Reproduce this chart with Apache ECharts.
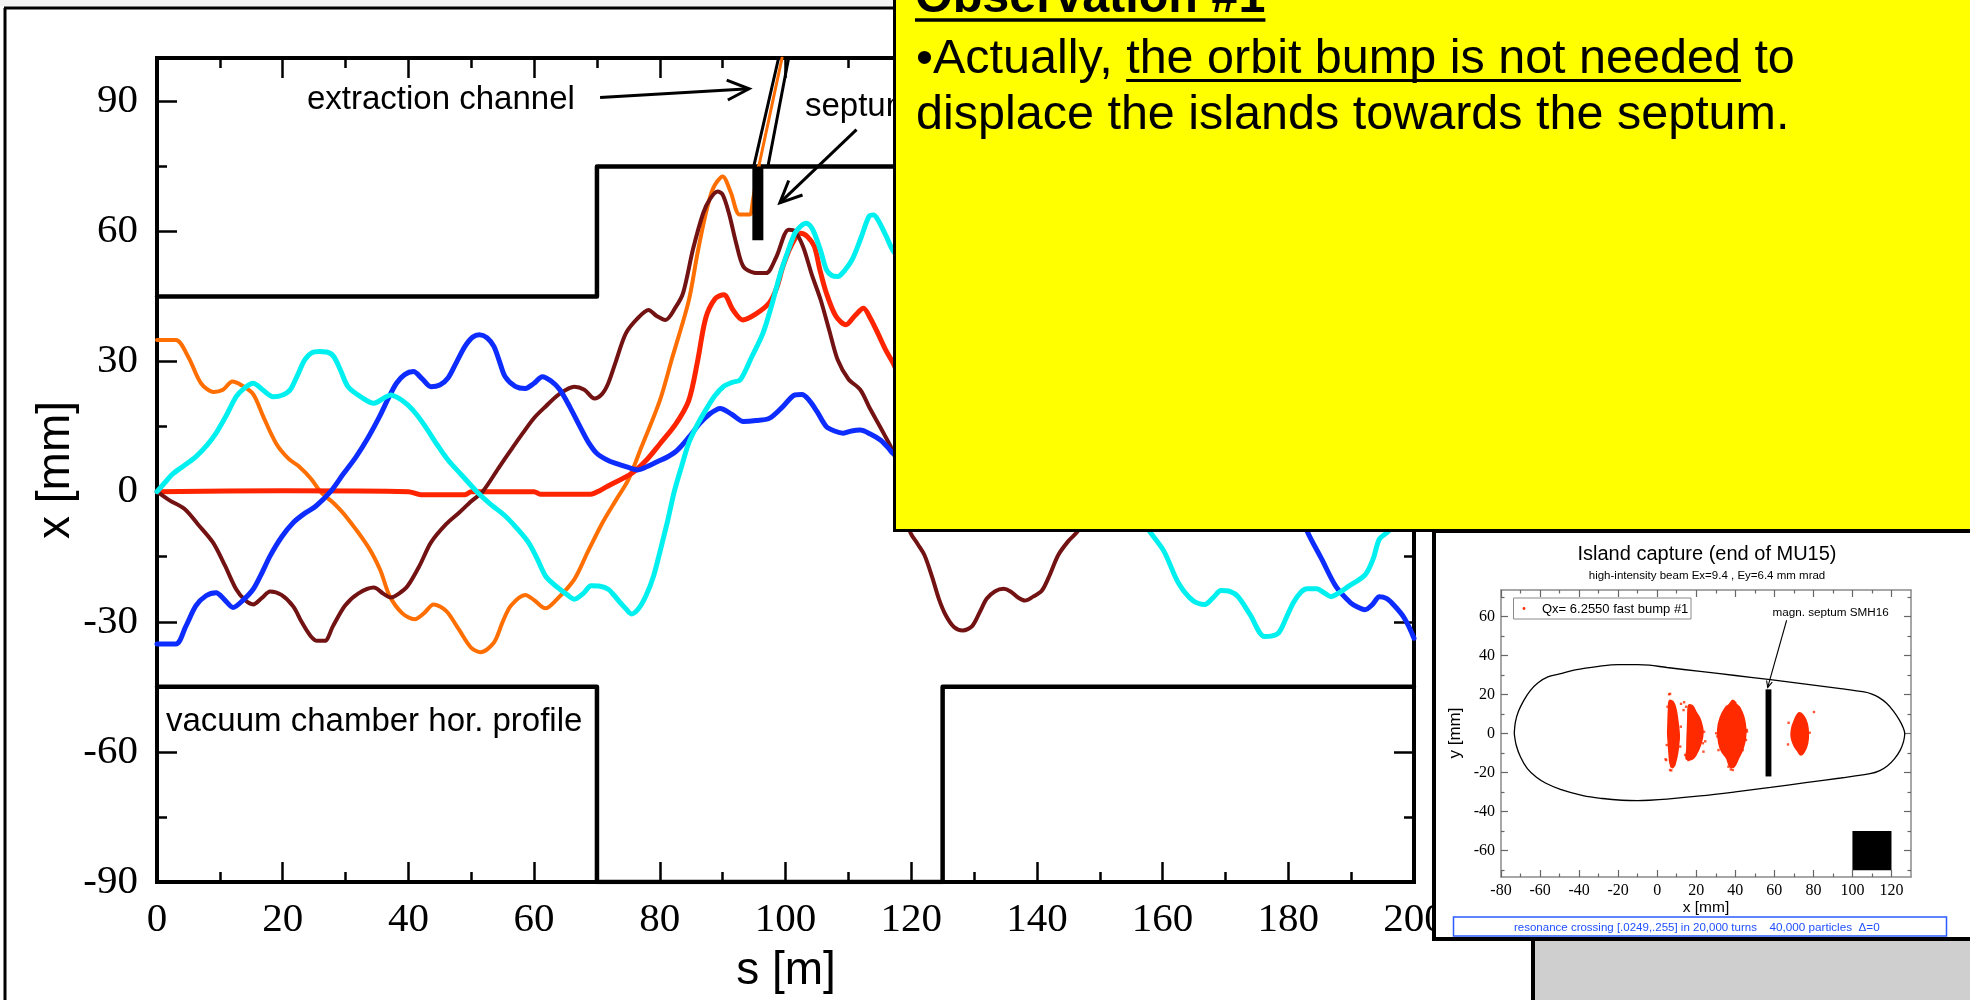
<!DOCTYPE html>
<html><head><meta charset="utf-8">
<script src="https://cdn.jsdelivr.net/npm/echarts@6/dist/echarts.min.js"></script>
<style>html,body{margin:0;padding:0;background:#fff}#c{width:1970px;height:1000px}</style>
</head><body><div id="c"></div>
<script>
// ---------------- main plot data: s [m] , x [mm] ----------------
const orangeOrbit = [[0,35],[3,35],[5,31],[7,25],[9,23],[10.5,23.5],[12,25.4],[13.5,24.5],[15.3,22.5],[17,17],[19,11],[21,7.5],[22.6,5.8],[24.5,3],[26,0],[28,-2.5],[30,-5.6],[33.5,-12.5],[35.5,-18],[37,-24],[39,-28],[41,-29.4],[42.5,-28],[44,-26],[46,-27.5],[48,-31.7],[50,-36],[51.5,-37],[53.6,-34.8],[55,-30],[56.3,-26.3],[58.6,-23.8],[60,-25],[61.8,-26.9],[63.5,-25],[66.4,-20.2],[68.5,-14],[70.9,-7.1],[73,-2],[75,2.8],[77,10],[80,21],[82,31],[84.6,44],[86,55],[87.3,64],[88.5,70],[90,72.7],[91.3,69],[92.7,63.9],[94.3,63.9],[94.8,67],[95.75,75]];
const orangeChannel = [[95.75,75],[99.45,100]];
const redOrbit = [[0,0],[20,0.2],[40,0],[42,-0.7],[49,-0.7],[50,0],[60,0],[61,-0.6],[69,-0.6],[70.5,0.3],[72,1.5],[75.5,4.2],[78,7.5],[80,11],[82.5,15.5],[84.6,21],[86,30],[87.3,40],[88.8,44.5],[90.2,45.4],[91.6,42],[93.2,39.6],[95.3,41],[97.4,43.5],[98.6,47],[99.6,52],[101,57],[102.4,59.6],[103.5,58.8],[104.6,56.5],[105.5,51],[106.5,45.8],[108,40.5],[109.6,38.5],[111,40.5],[112.4,42.3],[113.5,40],[114.7,36.5],[116,32.5],[117.4,28.8],[119,22]];
const brownOrbit = [[0,0],[2,-2],[4.4,-4],[6.5,-7.5],[8.9,-11.7],[10.8,-17],[12.6,-22.5],[14,-25],[15.3,-26],[16.7,-24.5],[18,-23],[19.8,-23.8],[21.7,-26.5],[23,-30],[24.4,-33.2],[25.5,-34.4],[26.7,-34.4],[28,-31],[29.9,-26.3],[32,-23.5],[34.5,-22.1],[36,-23.5],[37.2,-24.4],[38.5,-23.5],[39.9,-21.7],[41.8,-17],[43.6,-11.7],[46,-7.5],[48.1,-4.8],[50,-2.2],[51.8,0],[54.5,5.8],[56.5,10],[58.2,13.5],[60,17],[61.8,19.6],[64,22.5],[66.4,24.2],[68,23.5],[69.6,21.5],[70.8,22.5],[71.8,25],[73,30],[74.6,36.5],[76.5,40],[78.2,41.9],[79.5,40.5],[80.9,39.6],[82.5,42.5],[83.7,45.8],[85.3,56],[86.9,64.2],[88,67.5],[89.2,69.2],[90,68.5],[91,64.2],[92.2,57],[93.3,51.9],[95,50.5],[96.9,50.4],[98.5,54],[100.5,60.4],[101.5,60],[102.8,56.5],[104.2,50],[105.6,44.2],[107,37],[108.3,30.4],[110,26],[111.9,23.5],[113.5,19],[115.6,13.5],[117.4,8.1],[119.8,-9.1],[121,-12],[122.1,-14.6],[123.3,-19.5],[124.4,-24.7],[125.5,-28.5],[126.8,-31.2],[128.2,-32],[129.7,-31],[131,-27.5],[132,-24.7],[133.3,-23],[134.7,-22.4],[135.8,-23],[137,-24.4],[138.1,-25.1],[139.4,-24.2],[140.8,-22.8],[142.1,-19],[143.4,-14.6],[145,-11.4],[146.5,-9.1],[148,-5]];
const blueOrbit = [[0,-35.1],[3,-35.1],[4.6,-31],[6.2,-26.3],[7.8,-24],[9.4,-23.3],[10.8,-25],[12.1,-26.7],[13.7,-25],[15.3,-22.5],[16.6,-19],[18,-14.8],[19.8,-10.5],[21.7,-7.1],[23.5,-5],[25.3,-3.3],[27.6,0],[29.6,4],[31.7,8.1],[33.6,12.5],[35.4,17.3],[36.8,21.5],[38.1,25],[39.4,27],[40.8,27.7],[42.2,26],[43.6,24.2],[45,24.6],[46.3,26.2],[47.7,30],[49,33.5],[50.2,35.6],[51.3,36.2],[52.5,35.5],[53.6,33.5],[54.5,30],[55.4,26.5],[57,24.3],[58.6,23.8],[60,25],[61.3,26.5],[62.7,25.5],[64.1,23.5],[65.7,19.5],[67.3,15],[68.6,11.5],[70,8.8],[71.8,7.2],[73.7,6.2],[75,5.6],[76.4,5],[78,5.8],[79.6,6.9],[81.2,8],[82.8,9.6],[84.6,12.5],[86.4,15.8],[88,18],[89.6,19.2],[91.5,17.8],[93.3,16.2],[95.3,16.4],[97.4,16.9],[99.5,19.5],[101.5,22.3],[102.6,22.4],[103.7,21.2],[105,18.5],[106.5,15],[107.8,14],[109.2,13.5],[110.5,14],[111.9,14.2],[113.5,13.3],[115.1,11.9],[116.3,10.2],[117.4,8.6],[181.5,-3],[183,-9.1],[185.3,-15.5],[187.6,-21.9],[189.9,-25.6],[191,-26.6],[192.2,-27.2],[193.4,-26],[194.5,-24.2],[195.6,-24.6],[196.7,-26],[198.4,-29],[200,-33.8]];
const cyanOrbit = [[0,0],[1.2,2],[2.6,4.2],[4.5,6.2],[6.2,8.1],[8,10.8],[9.4,13.5],[11,17.5],[12.6,21.9],[14,24],[15.3,25],[16.8,23.5],[18.5,21.9],[20,22.3],[21.2,23.5],[22.4,27],[23.5,30.4],[24.6,32],[25.8,32.3],[27,32.2],[28.1,31.2],[29.2,28],[30.4,24.2],[32.5,21.8],[34.5,20.4],[36,21.5],[37.2,22.3],[38.5,21.5],[39.9,20],[41.3,17.8],[42.7,15],[44.5,11],[46.3,7.3],[48.5,3.8],[50.9,0],[53,-2.8],[55.4,-5.6],[57.3,-8.5],[59.1,-11.7],[60.5,-15.5],[61.8,-19.4],[63,-21.2],[64.1,-22.5],[65.3,-23.8],[66.4,-24.8],[67.8,-23.5],[69.1,-21.7],[70.5,-21.8],[71.8,-22.5],[72.8,-24],[73.7,-25.6],[74.6,-27],[75.5,-28.2],[76.6,-27],[77.8,-24],[79,-19.5],[80,-14],[81.2,-7],[82.3,0],[83.5,6],[84.6,11.2],[86,15.5],[87.3,18.8],[88.7,22],[90.1,24.2],[91.5,25.2],[92.8,25.8],[94.6,31],[96.4,36.5],[97.8,43],[99.2,50.4],[100.4,55.5],[101.5,59.6],[102.4,61.2],[103.3,61.9],[104,61.2],[104.6,59.6],[105.6,55.5],[106.5,51.2],[107.4,49.8],[108.3,49.6],[109.4,51],[110.6,53.5],[112,58.5],[113.3,63.5],[114,63.8],[114.7,62.7],[116,59],[117.4,55],[156,-5],[157.9,-9.1],[160.2,-13.7],[162.5,-21],[164.8,-25.1],[166.7,-26],[168,-24.5],[169.3,-22.8],[170.7,-23],[172,-24.2],[173.9,-28.3],[176.2,-33.4],[177.3,-33.3],[178.5,-32.5],[179.7,-29],[180.8,-25.6],[182,-23.2],[183,-22.4],[184.5,-22.4],[185.7,-23.3],[186.8,-24.2],[188.2,-23.2],[189.5,-21.9],[192.2,-19.2],[193.5,-15.5],[194.5,-10.9],[196,-9],[197.5,-4]];
const chamberUpper = [[0,45],[70,45],[70,75],[200,75]];
const chamberLower = [[0,-45],[70,-45],[70,-90],[125,-90],[125,-45],[200,-45]];
const channelLeft = [[94.95,75],[98.9,100]];
const channelRight = [[97.2,75],[100.5,100]];
const septumBar = [[95.6,58],[95.6,75]];
// arrows: [fromS, fromX, toS, toX]
const mainArrows = [[70.5,90.9,94.2,92.9],[111.3,83.5,99.1,66.6]];
const mainYMajor = [-90,-60,-30,0,30,60,90];
const mainYMinor = [-75,-45,-15,15,45,75];

// ---------------- inset data: x [mm], y [mm] ----------------
const separatrix = [[-73.2,0],[-72.6,6],[-71,11.5],[-68.3,17],[-65,22],[-61,26],[-56,29],[-50,30.5],[-42,32.6],[-30,34.4],[-20,35.3],[-10,35.3],[-4,35],[5,33.8],[22,31.8],[40,29.7],[58,27.6],[76,25.3],[94,23],[106,21.3],[110,20.2],[113.5,18.5],[117.5,15.5],[121,11.5],[124,7],[126,3],[126.8,0],[126.2,-4],[124.5,-8.5],[121.5,-13],[118,-16.5],[114,-19],[109,-20.6],[94,-22.8],[76,-25.2],[58,-27.6],[40,-29.9],[22,-32],[5,-33.6],[-4,-34.2],[-10,-34.4],[-18,-34.2],[-28,-33.3],[-38,-31.8],[-49.6,-28.6],[-57,-25.5],[-62,-22.3],[-66.5,-18],[-70,-12],[-72.2,-6],[-73.2,0]];
const islandA = [[6.3,16.8],[8.3,16],[9.7,12],[10.9,3.5],[11.3,-1],[11.2,-3.3],[10.4,-10.2],[9.2,-15.3],[7.8,-17.5],[6.6,-15.3],[6.1,-10.2],[5.6,-3.3],[5.4,0],[5.5,3.5],[5.8,12]];
const islandB = [[16.2,14.6],[18.2,14],[19.8,11],[21.8,7.8],[23.2,3],[23.4,0],[22.9,-3.3],[21.1,-8.5],[18.6,-12.7],[16.5,-13.5],[14.8,-12.7],[15.2,-8.5],[15.3,-3.3],[15.5,1.8],[15.7,7.8],[15.8,12]];
const islandC = [[38.8,17],[40.5,15],[42.5,12.9],[44.5,7.8],[45.4,1.8],[45.2,-2],[44.7,-5],[43.3,-9.3],[41.6,-12.7],[39.4,-17],[37.3,-17],[35.6,-12.7],[33.1,-9.3],[31.6,-5],[31,1.8],[32.2,7.8],[34.8,12.9],[37,15]];
const islandD = [[72.5,10.5],[75,9],[76.8,5],[77.4,0],[77,-5],[75.5,-9],[73.5,-11],[72,-9],[70,-6],[68.7,-2],[68.8,2],[70,6]];
const strayParticles = [[6.1,20.1],[6.6,20.3],[4.6,-13.6],[6.6,-18.7],[8.7,-16.1],[5.3,13.7],[13.8,16],[14.8,13.7],[23.7,-9.3],[17.2,-11.9],[14.3,-11],[36.5,-17],[37.7,-18.4],[45.5,-3.3],[31.4,-8.5],[39.1,16.3],[80.3,11],[67,-5.6],[74.2,-9.9],[7.2,-18.9],[24.6,-4],[46,1],[12.2,15.2],[30.8,-1.5],
  [4.9,-5.9],[4.3,-13.2],[12.1,3.5],[11.8,-6.7],[7.2,-16.7],[13.5,12],[24,0.9],[23.4,-5],[16,-13.6],[17.7,-12.2],[30.2,0.1],[45.9,1.8],[43.8,-8.5],[37.7,-16.1],[38.7,-18.7],[35.6,13.7],[39.9,15.8],[67.3,5.5],[78.1,0.4],[75.4,7.2]];
const insetSeptum = [[55.5,-22],[58.5,-22],[58.5,22.6],[55.5,22.6]];
const beamStopper = [[100,-70],[120,-70],[120,-50],[100,-50]];
const insetArrows = [[66.3,58,56.6,23.6]];
const insetXMajor = [-80,-60,-40,-20,0,20,40,60,80,100,120];
const insetXMinor = [-70,-50,-30,-10,10,30,50,70,90,110];
const insetYMajor = [-60,-40,-20,0,20,40,60];
const insetYMinor = [-70,-50,-30,-10,10,30,50,70];

const insetShapes = [islandA, islandB, islandC, islandD, insetSeptum, beamStopper];
const insetShapeColor = ['#ff2a00','#ff2a00','#ff2a00','#ff2a00','#000','#000'];

// ---------------- helpers ----------------
const SANS = '"Liberation Sans", Arial, sans-serif';
const SERIF = '"Liberation Serif", "Times New Roman", serif';
const mctx = document.createElement('canvas').getContext('2d');
function tw(str, font){ mctx.font = font; return mctx.measureText(str).width; }

function mainAxis(dim, pos, major, label, minorVals){
  const o = {type:'value', gridIndex:0, position:pos, splitLine:{show:false},
    axisLine:{show:!minorVals, onZero:false, lineStyle:{color:'#000', width:4, cap:'square'}},
    axisTick:{show:true, inside:true, length: minorVals?10:20, lineStyle:{color:'#000', width:2.5}},
    axisLabel:{show:label, color:'#000', fontFamily:SERIF, fontSize:41, margin: dim==='x'?18:19}};
  if(dim==='x'){ o.min=0; o.max=200; o.interval=20; o.minorTick={show:true, splitNumber:2, length:10, lineStyle:{color:'#000', width:2.5}}; }
  else { o.min=-90; o.max=100; o.axisTick.customValues = minorVals || mainYMajor; if(label) o.axisLabel.customValues = mainYMajor; }
  return o;
}
function insetAxis(dim, pos, label, minor){
  const vals = dim==='x' ? (minor?insetXMinor:insetXMajor) : (minor?insetYMinor:insetYMajor);
  const o = {type:'value', gridIndex:1, position:pos, z:40, splitLine:{show:false},
    min: dim==='x'?-80:-73.5, max: dim==='x'?130:73.5,
    axisLine:{show:!minor, onZero:false, lineStyle:{color:'#8a8a8a', width:1.5}},
    axisTick:{show:true, inside:true, length: minor?3.5:7, customValues: vals, lineStyle:{color:'#666', width:1.2}},
    axisLabel:{show:label, customValues: vals, color:'#000', fontFamily:SERIF, fontSize:16, margin:6}};
  return o;
}
function orbit(data, color, width, smooth){
  return {type:'line', data, xAxisIndex:0, yAxisIndex:0, showSymbol:false, symbol:'none', smooth: smooth===undefined?0.3:smooth,
    lineStyle:{color, width, cap:'round', join:'round'}, z:2, silent:true};
}
function arrowSeries(data, xi, yi, head, lw, z){
  return {type:'custom', coordinateSystem:'cartesian2d', xAxisIndex:xi, yAxisIndex:yi, data, z, silent:true,
    renderItem:(params, api)=>{
      const p1 = api.coord([api.value(0), api.value(1)]);
      const p2 = api.coord([api.value(2), api.value(3)]);
      const ang = Math.atan2(p2[1]-p1[1], p2[0]-p1[0]);
      const a1 = ang + Math.PI - 0.43, a2 = ang + Math.PI + 0.43;
      return {type:'group', children:[
        {type:'line', shape:{x1:p1[0], y1:p1[1], x2:p2[0], y2:p2[1]}, style:{stroke:'#000', lineWidth:lw}},
        {type:'polyline', shape:{points:[[p2[0]+head*Math.cos(a1), p2[1]+head*Math.sin(a1)], p2, [p2[0]+head*Math.cos(a2), p2[1]+head*Math.sin(a2)]]},
          style:{stroke:'#000', lineWidth:lw, fill:null, lineJoin:'miter'}}
      ]};
    }};
}

// ---------------- yellow box text layout ----------------
const F48 = '48.5px ' + SANS, F48B = 'bold 48.5px ' + SANS;
const line1Prefix = '\u2022Actually, ', line1U = 'the orbit bump is not needed', line1Suffix = ' to';
const tx = 916;
const u1Start = tx + tw(line1Prefix, F48), u1End = u1Start + tw(line1U, F48);
const titleW = tw('Observation #1', F48B);

function txt(text, x, y, font, opts){
  opts = opts || {};
  return Object.assign({type:'text', x, y, z: opts.z||5, silent:true, rotation: opts.rot||0,
    style:{text, x:0, y:0, font, fill: opts.fill||'#000', textAlign: opts.align||'left', align: opts.align||'left',
      textVerticalAlign:'middle', verticalAlign:'middle'}});
}
function seg(x1,y1,x2,y2,w,z,color){
  return {type:'line', z, silent:true, shape:{x1,y1,x2,y2}, style:{stroke:color||'#000', lineWidth:w}};
}

const graphics = [
  {type:'rect', z:0, silent:true, shape:{x:0,y:0,width:1970,height:6.5}, style:{fill:'#f3f3f3'}},
  seg(5,8,5,1005,3,1), seg(4,8,900,8,3,1),
  txt('extraction channel', 307, 100, '33px '+SANS),
  txt('septum', 805, 107, '33px '+SANS),
  txt('vacuum chamber hor. profile', 166, 721.5, '33px '+SANS),
  txt('s [m]', 786, 971, '46px '+SANS, {align:'center'}),
  txt('x [mm]', 56, 470, '46px '+SANS, {align:'center', rot:Math.PI/2}),
  // yellow observation box
  {type:'rect', z:30, silent:true, shape:{x:894.5,y:-10,width:1100,height:540.5}, style:{fill:'#ffff00', stroke:'#000', lineWidth:3}},
  txt('Observation #1', 915, -1, F48B, {z:31}),
  seg(915, 20, 915+titleW, 20, 3.5, 31),
  txt(line1Prefix + line1U + line1Suffix, tx, 60, F48, {z:31}),
  seg(u1Start, 80.5, u1End, 80.5, 3, 31),
  txt('displace the islands towards the septum.', tx, 115.5, F48, {z:31}),
  // inset frame
  {type:'rect', z:30, silent:true, shape:{x:1434,y:531,width:600,height:408}, style:{fill:'#fff', stroke:'#000', lineWidth:4}},
  {type:'rect', z:31, silent:true, shape:{x:1533,y:939,width:500,height:100}, style:{fill:'#cfcfcf', stroke:'#000', lineWidth:4}},
  txt('Island capture (end of MU15)', 1707, 554, '20px '+SANS, {z:41, align:'center'}),
  txt('high-intensity beam Ex=9.4 , Ey=6.4 mm mrad', 1707, 575.5, '11.5px '+SANS, {z:41, align:'center'}),
  txt('x [mm]', 1706, 907.5, '15.5px '+SANS, {z:41, align:'center'}),
  txt('y [mm]', 1455, 733, '17px '+SANS, {z:41, align:'center', rot:Math.PI/2}),
  {type:'rect', z:41, silent:true, shape:{x:1513.5,y:598,width:177.5,height:21}, style:{fill:'#fff', stroke:'#8a8a8a', lineWidth:1}},
  {type:'circle', z:42, silent:true, shape:{cx:1524,cy:608.5,r:1.4}, style:{fill:'#ff2a00'}},
  txt('Qx= 6.2550 fast bump #1', 1542, 609, '13px '+SANS, {z:42}),
  txt('magn. septum SMH16', 1772.5, 612.5, '11.7px '+SANS, {z:42}),
  {type:'rect', z:41, silent:true, shape:{x:1453.5,y:917,width:493,height:19}, style:{fill:null, stroke:'#2a5cff', lineWidth:1.5}},
  txt('resonance crossing [.0249,.255] in 20,000 turns', 1514, 927.5, '11.5px '+SANS, {z:42, fill:'#1f4fff'}),
  txt('40,000 particles', 1769.5, 927.5, '11.7px '+SANS, {z:42, fill:'#1f4fff'}),
  txt('\u0394=0', 1858.5, 927.5, '11.7px '+SANS, {z:42, fill:'#1f4fff'})
];

const chart = echarts.init(document.getElementById('c'), null, {renderer:'canvas'});
chart.setOption({
  animation:false,
  backgroundColor:'#ffffff',
  grid:[
    {left:157, top:58, width:1257, height:824, containLabel:false, outerBoundsMode:'none'},
    {left:1501, top:590, width:410, height:287, containLabel:false, outerBoundsMode:'none'}
  ],
  xAxis:[
    mainAxis('x','bottom',true,true),
    mainAxis('x','top',true,false),
    insetAxis('x','bottom',true,false),
    insetAxis('x','bottom',false,true),
    insetAxis('x','top',false,false),
    insetAxis('x','top',false,true)
  ],
  yAxis:[
    mainAxis('y','left',true,true),
    mainAxis('y','left',false,false,mainYMinor),
    mainAxis('y','right',true,false),
    mainAxis('y','right',false,false,mainYMinor),
    insetAxis('y','left',true,false),
    insetAxis('y','left',false,true),
    insetAxis('y','right',false,false),
    insetAxis('y','right',false,true)
  ],
  series:[
    orbit(chamberUpper,'#000',4.5,false),
    orbit(chamberLower,'#000',4.5,false),
    orbit(orangeOrbit,'#ff6e00',4),
    orbit(orangeChannel,'#ff6e00',3,false),
    orbit(channelLeft,'#000',3,false),
    orbit(channelRight,'#000',3,false),
    orbit(redOrbit,'#ff2400',5),
    orbit(brownOrbit,'#731212',4),
    orbit(blueOrbit,'#0d2cff',5),
    orbit(cyanOrbit,'#00f0f0',5),
    Object.assign(orbit(septumBar,'#000',11,false), {lineStyle:{color:'#000', width:11, cap:'butt'}}),
    arrowSeries(mainArrows, 0, 0, 24, 3, 5),
    // inset
    {type:'line', data:separatrix, xAxisIndex:2, yAxisIndex:4, showSymbol:false, symbol:'none', smooth:0.35,
      lineStyle:{color:'#000', width:1.3}, z:40, silent:true},
    {type:'custom', coordinateSystem:'cartesian2d', xAxisIndex:2, yAxisIndex:4, z:40, silent:true,
      data: insetShapes.map((s,i)=>[i,0]),
      renderItem:(params, api)=>{
        const i = params.dataIndex;
        const pts = insetShapes[i].map(p=>api.coord(p));
        return {type:'polygon', shape:{points:pts, smooth: i<4?0.35:0},
          style:{fill:insetShapeColor[i], stroke:insetShapeColor[i], lineWidth: i<4?1.6:0}};
      }},
    {type:'scatter', data:strayParticles, xAxisIndex:2, yAxisIndex:4, symbol:'rect', symbolSize:2.4,
      itemStyle:{color:'#ff2a00'}, z:40, silent:true},
    arrowSeries(insetArrows, 2, 4, 7, 1.1, 41)
  ],
  graphic:{elements:graphics}
});
</script></body></html>
